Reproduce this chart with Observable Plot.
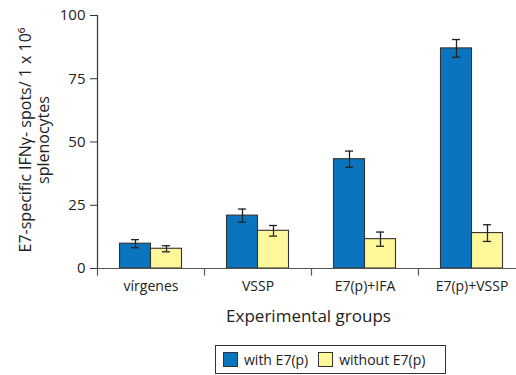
<!DOCTYPE html>
<html><head><meta charset="utf-8">
<script src="https://cdn.jsdelivr.net/npm/d3@7"></script>
<script src="https://cdn.jsdelivr.net/npm/@observablehq/plot@0.6"></script>
<style>
html,body{margin:0;padding:0;background:#fff;overflow:hidden;width:516px;height:375px;}
#wrap{position:relative;width:516px;height:375px;font-family:"Open Sans",sans-serif;}
#legend{position:absolute;left:215px;top:345px;width:229px;height:27px;border:1px solid #333;display:flex;align-items:center;font-size:14px;color:#222;box-sizing:content-box;}
.sw{display:inline-block;width:13px;height:13px;border:1px solid #333;margin:0 6px 0 7px;}
</style></head>
<body><div id="wrap"><div id="chart"></div><div id="legend"></div></div>
<script>
const categories = ["vírgenes", "VSSP", "E7(p)+IFA", "E7(p)+VSSP"];
const series = ["with E7(p)", "without E7(p)"];
const withE7 = [9.8, 20.9, 43.2, 87.0];
const withE7Err = [1.6, 2.6, 3.2, 3.5];
const withoutE7 = [7.8, 14.9, 11.6, 14.0];
const withoutE7Err = [1.2, 2.1, 2.8, 3.3];
const yTicks = [0, 25, 50, 75, 100];
const colors = ["#0a74bf", "#fff89a"];

const rowsA = categories.map((c, i) => ({cat: c, v: withE7[i], e: withE7Err[i]}));
const rowsB = categories.map((c, i) => ({cat: c, v: withoutE7[i], e: withoutE7Err[i]}));

const ff = "'Open Sans', sans-serif";
const chart = Plot.plot({
  width: 516, height: 340,
  marginTop: 15, marginBottom: 72, marginLeft: 97, marginRight: -9,
  style: {fontFamily: ff, color: "#222", background: "transparent"},
  x: {domain: categories, padding: 0},
  y: {domain: [0, 100]},
  marks: [
    Plot.barY(rowsA, {x: "cat", y: "v", fill: colors[0], stroke: "#333", strokeWidth: 1.1, insetLeft: 22.5, insetRight: 53.5}),
    Plot.barY(rowsB, {x: "cat", y: "v", fill: colors[1], stroke: "#333", strokeWidth: 1.1, insetLeft: 53.5, insetRight: 22.5}),
    Plot.ruleX(rowsA, {x: "cat", y1: d => d.v - d.e, y2: d => d.v + d.e, dx: -15.5, stroke: "#222", strokeWidth: 1.3}),
    Plot.ruleX(rowsB, {x: "cat", y1: d => d.v - d.e, y2: d => d.v + d.e, dx: 15.5, stroke: "#222", strokeWidth: 1.3}),
    Plot.tickY(rowsA, {x: "cat", y: d => d.v + d.e, insetLeft: 34, insetRight: 65, stroke: "#222", strokeWidth: 1.3}),
    Plot.tickY(rowsA, {x: "cat", y: d => d.v - d.e, insetLeft: 34, insetRight: 65, stroke: "#222", strokeWidth: 1.3}),
    Plot.tickY(rowsB, {x: "cat", y: d => d.v + d.e, insetLeft: 65, insetRight: 34, stroke: "#222", strokeWidth: 1.3}),
    Plot.tickY(rowsB, {x: "cat", y: d => d.v - d.e, insetLeft: 65, insetRight: 34, stroke: "#222", strokeWidth: 1.3}),
    Plot.ruleY([0], {stroke: "#555", strokeWidth: 1.2}),
    Plot.frame({anchor: "left", stroke: "#333", strokeWidth: 1.2}),
    Plot.ruleX(categories, {x: d => d, y1: 0, y2: -3, dx: -53.5, stroke: "#555", strokeWidth: 1.2}),
    Plot.axisY({ticks: yTicks, tickSize: 7, tickPadding: 5, fontSize: 15, label: null, stroke: "#333"}),
    Plot.axisX({tickSize: 0, tickPadding: 13, fontSize: 14, label: null}),
    Plot.text(["Experimental groups"], {frameAnchor: "bottom", dy: 53, fontSize: 17, fill: "#222", dx: -3}),
    Plot.text(["E7-specific IFNγ- spots/ 1 x 10⁶"], {frameAnchor: "left", textAnchor: "middle", dx: -72, dy: -2, rotate: -90, fontSize: 16, fill: "#222"}),
    Plot.text(["splenocytes"], {frameAnchor: "left", textAnchor: "middle", dx: -54, dy: -2, rotate: -90, fontSize: 16, fill: "#222"})
  ]
});
document.getElementById("chart").appendChild(chart);

const legend = document.getElementById("legend");
series.forEach((s, i) => {
  const sw = document.createElement("span");
  sw.className = "sw";
  sw.style.background = colors[i];
  if (i > 0) sw.style.marginLeft = "10px";
  legend.appendChild(sw);
  const t = document.createElement("span");
  t.textContent = s;
  legend.appendChild(t);
});
</script></body></html>
